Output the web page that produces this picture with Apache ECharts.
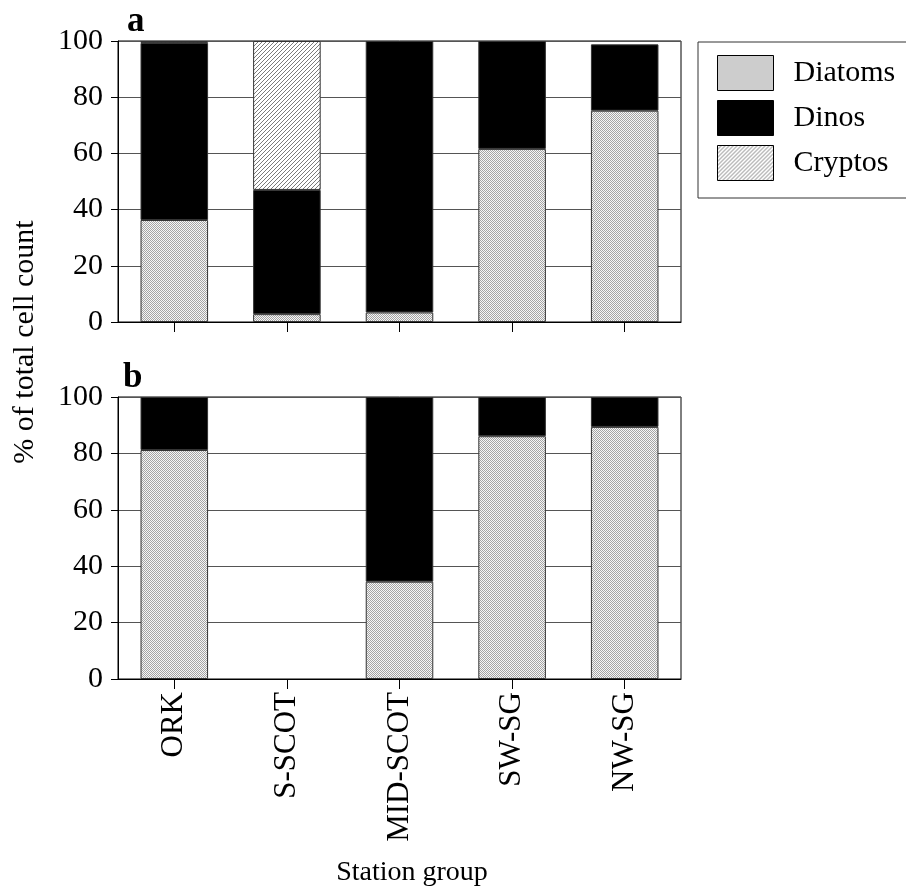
<!DOCTYPE html>
<html><head><meta charset="utf-8">
<script src="https://cdn.jsdelivr.net/npm/echarts@6/dist/echarts.min.js"></script>
<style>html,body{margin:0;padding:0;background:#fff}#c{width:906px;height:896px}</style>
</head><body><div id="c"></div>
<script>
const categories = ['ORK', 'S-SCOT', 'MID-SCOT', 'SW-SG', 'NW-SG'];
const yTicks = [0, 20, 40, 60, 80, 100];
// Panel a
const aDiatoms = [36.3, 2.8, 3.4, 61.6, 75.2];
const aDinos = [63.0, 44.2, 96.6, 38.4, 23.6];
const aCryptos = [0.7, 53.0, null, null, null];
// Panel b
const bDiatoms = [81.2, null, 34.5, 86.1, 89.4];
const bDinos = [18.8, null, 65.5, 13.9, 10.6];

const FONT = "'Liberation Serif', 'Times New Roman', serif";

function dotPattern() {
  const c = document.createElement('canvas');
  c.width = 2; c.height = 2;
  const g = c.getContext('2d');
  g.fillStyle = '#f6f6f6'; g.fillRect(0, 0, 2, 2);
  g.fillStyle = '#a4a4a4'; g.fillRect(0, 0, 1, 1); g.fillRect(1, 1, 1, 1);
  return { image: c, repeat: 'repeat' };
}
function hatchPattern() {
  const c = document.createElement('canvas');
  c.width = 4; c.height = 4;
  const g = c.getContext('2d');
  g.fillStyle = '#ffffff'; g.fillRect(0, 0, 4, 4);
  g.fillStyle = '#7a7a7a';
  g.fillRect(0, 3, 1, 1); g.fillRect(1, 2, 1, 1); g.fillRect(2, 1, 1, 1); g.fillRect(3, 0, 1, 1);
  return { image: c, repeat: 'repeat' };
}
const DOTS = dotPattern();
const HATCH = hatchPattern();

const chart = echarts.init(document.getElementById('c'), null, { renderer: 'canvas' });

function yAxis(idx) {
  return {
    type: 'value', gridIndex: idx, min: yTicks[0], max: yTicks[yTicks.length - 1], interval: 20,
    axisLine: { show: true, lineStyle: { color: '#000', width: 1 } },
    axisTick: { show: true, length: 7, lineStyle: { color: '#000' } },
    axisLabel: { fontFamily: FONT, fontSize: 30, color: '#000', margin: 15 },
    splitLine: { show: true, lineStyle: { color: '#555', width: 1 } }
  };
}
function xAxis(idx, labels) {
  return {
    type: 'category', gridIndex: idx, data: categories,
    axisLine: { show: true, onZero: false, lineStyle: { color: '#000', width: 1 } },
    axisTick: { show: true, alignWithLabel: true, length: 10, lineStyle: { color: '#000' } },
    axisLabel: { show: labels, rotate: 90, fontFamily: FONT, fontSize: 31, color: '#000', margin: 13, interval: 0 }
  };
}
function bar(name, data, gi, stack, color) {
  return {
    name: name, type: 'bar', stack: stack, xAxisIndex: gi, yAxisIndex: gi,
    data: data, barWidth: '60%',
    itemStyle: { color: color, borderColor: '#333', borderWidth: 1 },
    emphasis: { disabled: true }
  };
}

chart.setOption({
  animation: false,
  backgroundColor: '#fff',
  grid: [
    { left: 118, top: 41, width: 563, height: 281, show: true, borderColor: '#000', borderWidth: 1, backgroundColor: 'transparent' },
    { left: 118, top: 397, width: 563, height: 282, show: true, borderColor: '#000', borderWidth: 1, backgroundColor: 'transparent' }
  ],
  xAxis: [xAxis(0, false), xAxis(1, true)],
  yAxis: [yAxis(0), yAxis(1)],
  legend: {
    orient: 'vertical', left: 698, top: 42,
    padding: [13, 24, 17, 19], itemGap: 9, itemWidth: 56, itemHeight: 35,
    icon: 'rect',
    borderColor: '#333', borderWidth: 1, borderRadius: 0,
    textStyle: { fontFamily: FONT, fontSize: 30, color: '#000', padding: [0, 0, 0, 15] },
    itemStyle: { borderColor: '#000', borderWidth: 1 },
    data: ['Diatoms', 'Dinos', 'Cryptos']
  },
  graphic: [
    { type: 'text', left: 127, top: 4, style: { text: 'a', fontFamily: FONT, fontWeight: 'bold', fontSize: 35, fill: '#000' } },
    { type: 'text', left: 123, top: 360, style: { text: 'b', fontFamily: FONT, fontWeight: 'bold', fontSize: 35, fill: '#000' } },
    { type: 'text', x: 25, y: 342, rotation: Math.PI / 2,
      style: { text: '% of total cell count', fontFamily: FONT, fontSize: 30, fill: '#000', align: 'center', verticalAlign: 'middle' } },
    { type: 'text', x: 412, y: 873,
      style: { text: 'Station group', fontFamily: FONT, fontSize: 28, fill: '#000', align: 'center', verticalAlign: 'middle' } }
  ],
  series: [
    bar('Diatoms', aDiatoms, 0, 'a', DOTS),
    bar('Dinos', aDinos, 0, 'a', '#000'),
    bar('Cryptos', aCryptos, 0, 'a', HATCH),
    bar('Diatoms', bDiatoms, 1, 'b', DOTS),
    bar('Dinos', bDinos, 1, 'b', '#000')
  ]
});
</script>
</body></html>
